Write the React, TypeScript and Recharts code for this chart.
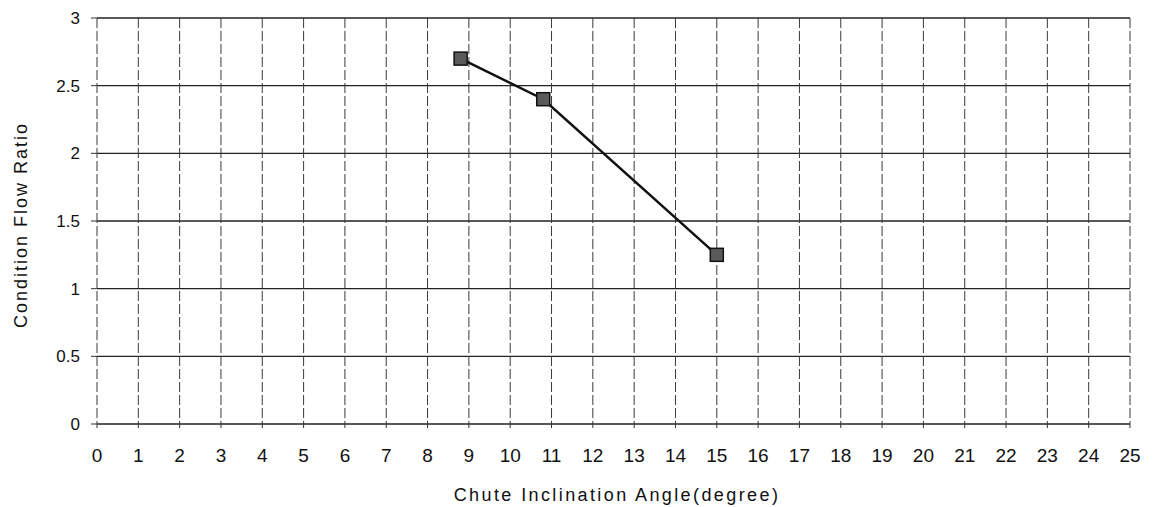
import { LineChart, Line, XAxis, YAxis, CartesianGrid } from 'recharts';

const angles = [8.8, 10.8, 15];
const ratios = [2.7, 2.4, 1.25];
const xTicks = Array.from({ length: 26 }, (_, i) => i);
const yTicks = [0, 0.5, 1, 1.5, 2, 2.5, 3];

const data = angles.map((a, i) => ({ angle: a, ratio: ratios[i] }));

const FONT = '"Liberation Sans", Arial, sans-serif';

const SquareDot = (props: any) => {
    const { cx, cy } = props;
    if (cx == null || cy == null) return null;
    return <rect x={cx - 6.5} y={cy - 6.5} width={13} height={13} fill="#5a5a5a" stroke="#111" strokeWidth={1.5} />;
};

const YTitle = () => (
    <text
        x={21}
        y={225}
        transform="rotate(-90 21 225)"
        textAnchor="middle"
        dominantBaseline="central"
        fontFamily={FONT}
        fontSize={18}
        letterSpacing={2}
        fill="#111"
    >
        Condition Flow Ratio
    </text>
);

const XTitle = () => (
    <text
        x={617}
        y={495}
        textAnchor="middle"
        dominantBaseline="central"
        fontFamily={FONT}
        fontSize={18}
        letterSpacing={2.4}
        fill="#111"
    >
        Chute Inclination Angle(degree)
    </text>
);

export default function App() {
    return (
        <div style={{ width: 1159, height: 507, background: '#fff' }}>
            <style>{`body{margin:0}`}</style>
            <LineChart width={1159} height={507} data={data} margin={{ top: 18, right: 29, left: 0, bottom: 0 }}>
                <CartesianGrid vertical={false} stroke="#222" strokeWidth={1.3} />
                <CartesianGrid horizontal={false} stroke="#3a3a3a" strokeDasharray="10 3" />
                <XAxis
                    dataKey="angle"
                    type="number"
                    domain={[0, 25]}
                    ticks={xTicks}
                    interval={0}
                    height={83}
                    axisLine={false}
                    tickLine={{ stroke: '#333' }}
                    tickSize={4}
                    tickMargin={21}
                    tick={{ fill: '#111', fontSize: 19, fontFamily: FONT }}
                    label={{ content: () => <XTitle /> }}
                />
                <YAxis
                    type="number"
                    domain={[0, 3]}
                    ticks={yTicks}
                    interval={0}
                    width={97}
                    axisLine={false}
                    tickLine={{ stroke: '#333' }}
                    tickSize={6}
                    tickMargin={11}
                    tick={{ fill: '#111', fontSize: 17, fontFamily: FONT }}
                    label={{ content: () => <YTitle /> }}
                />
                <Line
                    dataKey="ratio"
                    stroke="#111"
                    strokeWidth={2.5}
                    dot={<SquareDot />}
                    isAnimationActive={false}
                />
            </LineChart>
        </div>
    );
}
